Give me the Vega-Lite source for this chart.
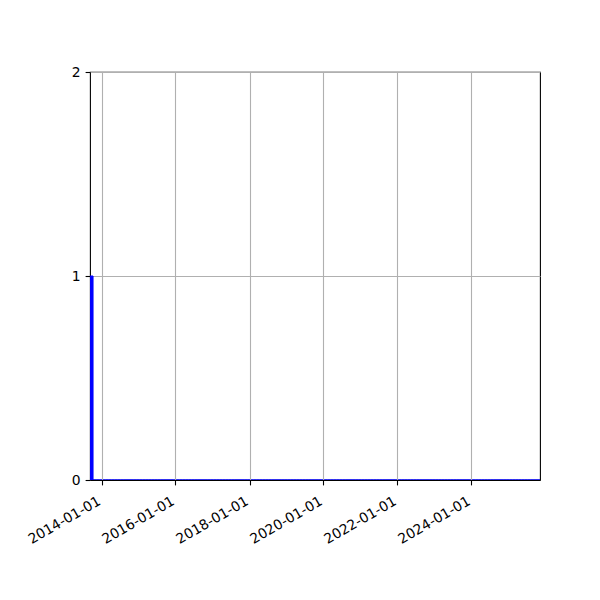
{
  "$schema": "https://vega.github.io/schema/vega-lite/v6.json",
  "width": 450,
  "height": 408,
  "autosize": {"type": "none"},
  "padding": {"left": 90, "top": 72, "right": 60, "bottom": 120},
  "config": {
    "view": {"stroke": "black", "strokeWidth": 1.1},
    "axis": {
      "labelFont": "DejaVu Sans",
      "labelFontSize": 13.9,
      "labelColor": "black",
      "labelOverlap": false,
      "tickColor": "black",
      "tickSize": 4.9,
      "tickWidth": 1.1,
      "labelPadding": 4.9,
      "gridColor": "#b0b0b0",
      "gridWidth": 1.1,
      "domainColor": "black",
      "domainWidth": 1.1
    }
  },
  "data": {
    "values": [
      {"s": "2013-09-09", "e": "2013-10-09", "n": 1},
      {"s": "2013-10-09", "e": "2013-11-09", "n": 0},
      {"s": "2013-11-09", "e": "2013-12-09", "n": 0},
      {"s": "2013-12-09", "e": "2014-01-09", "n": 0},
      {"s": "2014-01-09", "e": "2014-02-09", "n": 0},
      {"s": "2014-02-09", "e": "2014-03-09", "n": 0},
      {"s": "2014-03-09", "e": "2014-04-09", "n": 0},
      {"s": "2014-04-09", "e": "2014-05-09", "n": 0},
      {"s": "2014-05-09", "e": "2014-06-09", "n": 0},
      {"s": "2014-06-09", "e": "2014-07-09", "n": 0},
      {"s": "2014-07-09", "e": "2014-08-09", "n": 0},
      {"s": "2014-08-09", "e": "2014-09-09", "n": 0},
      {"s": "2014-09-09", "e": "2014-10-09", "n": 0},
      {"s": "2014-10-09", "e": "2014-11-09", "n": 0},
      {"s": "2014-11-09", "e": "2014-12-09", "n": 0},
      {"s": "2014-12-09", "e": "2015-01-09", "n": 0},
      {"s": "2015-01-09", "e": "2015-02-09", "n": 0},
      {"s": "2015-02-09", "e": "2015-03-09", "n": 0},
      {"s": "2015-03-09", "e": "2015-04-09", "n": 0},
      {"s": "2015-04-09", "e": "2015-05-09", "n": 0},
      {"s": "2015-05-09", "e": "2015-06-09", "n": 0},
      {"s": "2015-06-09", "e": "2015-07-09", "n": 0},
      {"s": "2015-07-09", "e": "2015-08-09", "n": 0},
      {"s": "2015-08-09", "e": "2015-09-09", "n": 0},
      {"s": "2015-09-09", "e": "2015-10-09", "n": 0},
      {"s": "2015-10-09", "e": "2015-11-09", "n": 0},
      {"s": "2015-11-09", "e": "2015-12-09", "n": 0},
      {"s": "2015-12-09", "e": "2016-01-09", "n": 0},
      {"s": "2016-01-09", "e": "2016-02-09", "n": 0},
      {"s": "2016-02-09", "e": "2016-03-09", "n": 0},
      {"s": "2016-03-09", "e": "2016-04-09", "n": 0},
      {"s": "2016-04-09", "e": "2016-05-09", "n": 0},
      {"s": "2016-05-09", "e": "2016-06-09", "n": 0},
      {"s": "2016-06-09", "e": "2016-07-09", "n": 0},
      {"s": "2016-07-09", "e": "2016-08-09", "n": 0},
      {"s": "2016-08-09", "e": "2016-09-09", "n": 0},
      {"s": "2016-09-09", "e": "2016-10-09", "n": 0},
      {"s": "2016-10-09", "e": "2016-11-09", "n": 0},
      {"s": "2016-11-09", "e": "2016-12-09", "n": 0},
      {"s": "2016-12-09", "e": "2017-01-09", "n": 0},
      {"s": "2017-01-09", "e": "2017-02-09", "n": 0},
      {"s": "2017-02-09", "e": "2017-03-09", "n": 0},
      {"s": "2017-03-09", "e": "2017-04-09", "n": 0},
      {"s": "2017-04-09", "e": "2017-05-09", "n": 0},
      {"s": "2017-05-09", "e": "2017-06-09", "n": 0},
      {"s": "2017-06-09", "e": "2017-07-09", "n": 0},
      {"s": "2017-07-09", "e": "2017-08-09", "n": 0},
      {"s": "2017-08-09", "e": "2017-09-09", "n": 0},
      {"s": "2017-09-09", "e": "2017-10-09", "n": 0},
      {"s": "2017-10-09", "e": "2017-11-09", "n": 0},
      {"s": "2017-11-09", "e": "2017-12-09", "n": 0},
      {"s": "2017-12-09", "e": "2018-01-09", "n": 0},
      {"s": "2018-01-09", "e": "2018-02-09", "n": 0},
      {"s": "2018-02-09", "e": "2018-03-09", "n": 0},
      {"s": "2018-03-09", "e": "2018-04-09", "n": 0},
      {"s": "2018-04-09", "e": "2018-05-09", "n": 0},
      {"s": "2018-05-09", "e": "2018-06-09", "n": 0},
      {"s": "2018-06-09", "e": "2018-07-09", "n": 0},
      {"s": "2018-07-09", "e": "2018-08-09", "n": 0},
      {"s": "2018-08-09", "e": "2018-09-09", "n": 0},
      {"s": "2018-09-09", "e": "2018-10-09", "n": 0},
      {"s": "2018-10-09", "e": "2018-11-09", "n": 0},
      {"s": "2018-11-09", "e": "2018-12-09", "n": 0},
      {"s": "2018-12-09", "e": "2019-01-09", "n": 0},
      {"s": "2019-01-09", "e": "2019-02-09", "n": 0},
      {"s": "2019-02-09", "e": "2019-03-09", "n": 0},
      {"s": "2019-03-09", "e": "2019-04-09", "n": 0},
      {"s": "2019-04-09", "e": "2019-05-09", "n": 0},
      {"s": "2019-05-09", "e": "2019-06-09", "n": 0},
      {"s": "2019-06-09", "e": "2019-07-09", "n": 0},
      {"s": "2019-07-09", "e": "2019-08-09", "n": 0},
      {"s": "2019-08-09", "e": "2019-09-09", "n": 0},
      {"s": "2019-09-09", "e": "2019-10-09", "n": 0},
      {"s": "2019-10-09", "e": "2019-11-09", "n": 0},
      {"s": "2019-11-09", "e": "2019-12-09", "n": 0},
      {"s": "2019-12-09", "e": "2020-01-09", "n": 0},
      {"s": "2020-01-09", "e": "2020-02-09", "n": 0},
      {"s": "2020-02-09", "e": "2020-03-09", "n": 0},
      {"s": "2020-03-09", "e": "2020-04-09", "n": 0},
      {"s": "2020-04-09", "e": "2020-05-09", "n": 0},
      {"s": "2020-05-09", "e": "2020-06-09", "n": 0},
      {"s": "2020-06-09", "e": "2020-07-09", "n": 0},
      {"s": "2020-07-09", "e": "2020-08-09", "n": 0},
      {"s": "2020-08-09", "e": "2020-09-09", "n": 0},
      {"s": "2020-09-09", "e": "2020-10-09", "n": 0},
      {"s": "2020-10-09", "e": "2020-11-09", "n": 0},
      {"s": "2020-11-09", "e": "2020-12-09", "n": 0},
      {"s": "2020-12-09", "e": "2021-01-09", "n": 0},
      {"s": "2021-01-09", "e": "2021-02-09", "n": 0},
      {"s": "2021-02-09", "e": "2021-03-09", "n": 0},
      {"s": "2021-03-09", "e": "2021-04-09", "n": 0},
      {"s": "2021-04-09", "e": "2021-05-09", "n": 0},
      {"s": "2021-05-09", "e": "2021-06-09", "n": 0},
      {"s": "2021-06-09", "e": "2021-07-09", "n": 0},
      {"s": "2021-07-09", "e": "2021-08-09", "n": 0},
      {"s": "2021-08-09", "e": "2021-09-09", "n": 0},
      {"s": "2021-09-09", "e": "2021-10-09", "n": 0},
      {"s": "2021-10-09", "e": "2021-11-09", "n": 0},
      {"s": "2021-11-09", "e": "2021-12-09", "n": 0},
      {"s": "2021-12-09", "e": "2022-01-09", "n": 0},
      {"s": "2022-01-09", "e": "2022-02-09", "n": 0},
      {"s": "2022-02-09", "e": "2022-03-09", "n": 0},
      {"s": "2022-03-09", "e": "2022-04-09", "n": 0},
      {"s": "2022-04-09", "e": "2022-05-09", "n": 0},
      {"s": "2022-05-09", "e": "2022-06-09", "n": 0},
      {"s": "2022-06-09", "e": "2022-07-09", "n": 0},
      {"s": "2022-07-09", "e": "2022-08-09", "n": 0},
      {"s": "2022-08-09", "e": "2022-09-09", "n": 0},
      {"s": "2022-09-09", "e": "2022-10-09", "n": 0},
      {"s": "2022-10-09", "e": "2022-11-09", "n": 0},
      {"s": "2022-11-09", "e": "2022-12-09", "n": 0},
      {"s": "2022-12-09", "e": "2023-01-09", "n": 0},
      {"s": "2023-01-09", "e": "2023-02-09", "n": 0},
      {"s": "2023-02-09", "e": "2023-03-09", "n": 0},
      {"s": "2023-03-09", "e": "2023-04-09", "n": 0},
      {"s": "2023-04-09", "e": "2023-05-09", "n": 0},
      {"s": "2023-05-09", "e": "2023-06-09", "n": 0},
      {"s": "2023-06-09", "e": "2023-07-09", "n": 0},
      {"s": "2023-07-09", "e": "2023-08-09", "n": 0},
      {"s": "2023-08-09", "e": "2023-09-09", "n": 0},
      {"s": "2023-09-09", "e": "2023-10-09", "n": 0},
      {"s": "2023-10-09", "e": "2023-11-09", "n": 0},
      {"s": "2023-11-09", "e": "2023-12-09", "n": 0},
      {"s": "2023-12-09", "e": "2024-01-09", "n": 0},
      {"s": "2024-01-09", "e": "2024-02-09", "n": 0},
      {"s": "2024-02-09", "e": "2024-03-09", "n": 0},
      {"s": "2024-03-09", "e": "2024-04-09", "n": 0},
      {"s": "2024-04-09", "e": "2024-05-09", "n": 0},
      {"s": "2024-05-09", "e": "2024-06-09", "n": 0},
      {"s": "2024-06-09", "e": "2024-07-09", "n": 0},
      {"s": "2024-07-09", "e": "2024-08-09", "n": 0},
      {"s": "2024-08-09", "e": "2024-09-09", "n": 0},
      {"s": "2024-09-09", "e": "2024-10-09", "n": 0},
      {"s": "2024-10-09", "e": "2024-11-09", "n": 0},
      {"s": "2024-11-09", "e": "2024-12-09", "n": 0},
      {"s": "2024-12-09", "e": "2025-01-09", "n": 0},
      {"s": "2025-01-09", "e": "2025-02-09", "n": 0},
      {"s": "2025-02-09", "e": "2025-03-09", "n": 0},
      {"s": "2025-03-09", "e": "2025-04-09", "n": 0},
      {"s": "2025-04-09", "e": "2025-05-09", "n": 0},
      {"s": "2025-05-09", "e": "2025-06-09", "n": 0},
      {"s": "2025-06-09", "e": "2025-07-09", "n": 0},
      {"s": "2025-07-09", "e": "2025-08-09", "n": 0},
      {"s": "2025-08-09", "e": "2025-09-09", "n": 0},
      {"s": "2025-09-09", "e": "2025-10-09", "n": 0},
      {"s": "2025-10-09", "e": "2025-11-09", "n": 0}
    ]
  },
  "mark": {"type": "bar", "orient": "vertical", "color": "blue", "stroke": "blue", "strokeWidth": 1, "clip": true},
  "encoding": {
    "x": {
      "field": "s",
      "type": "temporal",
      "scale": {
        "type": "utc",
        "nice": false,
        "padding": 0,
        "domain": [
          {"year": 2013, "month": 9, "date": 9, "utc": true},
          {"year": 2025, "month": 11, "date": 8, "utc": true}
        ]
      },
      "axis": {
        "title": null,
        "values": [
          {"year": 2014, "month": 1, "date": 1, "utc": true},
          {"year": 2016, "month": 1, "date": 1, "utc": true},
          {"year": 2018, "month": 1, "date": 1, "utc": true},
          {"year": 2020, "month": 1, "date": 1, "utc": true},
          {"year": 2022, "month": 1, "date": 1, "utc": true},
          {"year": 2024, "month": 1, "date": 1, "utc": true}
        ],
        "labelExpr": "utcFormat(datum.value, '%Y-%m-%d')",
        "labelAngle": -30,
        "labelAlign": "right",
        "labelBaseline": "top",
        "labelOffset": -6,
        "labelPadding": 9,
        "zindex": 1
      }
    },
    "x2": {"field": "e"},
    "y": {
      "field": "n",
      "type": "quantitative",
      "stack": null,
      "scale": {"domain": [0, 2], "nice": false, "padding": 0},
      "axis": {"title": null, "values": [0, 1, 2], "labelExpr": "format(datum.value, '.0f')", "domain": false}
    },
    "y2": {"datum": 0}
  }
}
